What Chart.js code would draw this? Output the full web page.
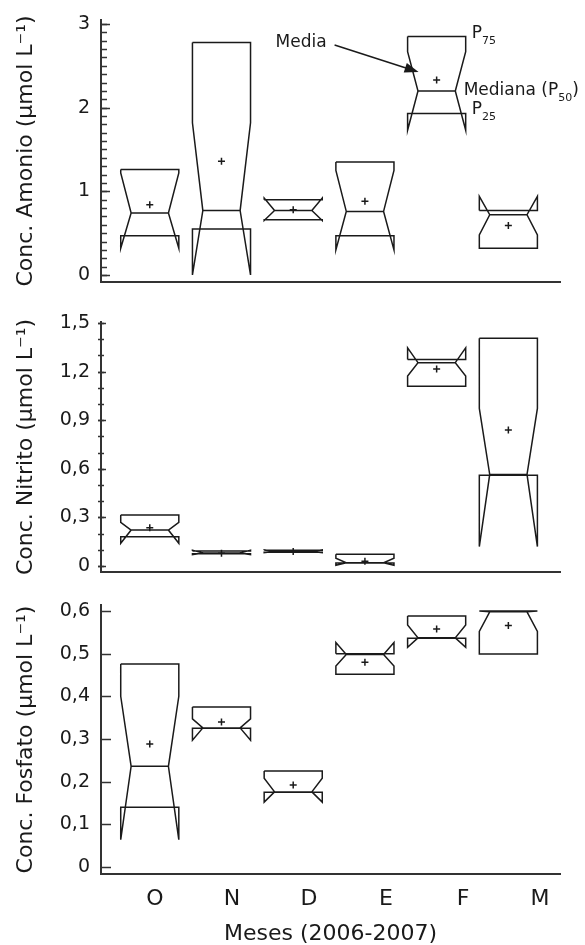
<!DOCTYPE html>
<html>
<head>
<meta charset="utf-8">
<script src="https://cdn.jsdelivr.net/npm/chart.js@4.4.0/dist/chart.umd.min.js"></script>
<style>
  html, body { margin: 0; padding: 0; background: #fff; }
  #wrap { position: relative; width: 585px; height: 945px; }
  #wrap canvas { position: absolute; left: 0; }
</style>
</head>
<body>
<div id="wrap">
  <canvas id="amonio" width="585" height="292" style="top:0px"></canvas>
  <canvas id="nitrito" width="585" height="290" style="top:292px"></canvas>
  <canvas id="fosfato" width="585" height="363" style="top:582px"></canvas>
</div>
<script>
// meses de muestreo
const months = ['O', 'N', 'D', 'E', 'F', 'M'];

// Amonio (µmol L-1)
const amoP25 = [0.47, 0.55, 0.66, 0.47, 1.93, 0.32];
const amoP75 = [1.26, 2.78, 0.90, 1.35, 2.85, 0.77];
const amoMed = [0.74, 0.77, 0.77, 0.76, 2.20, 0.72];
const amoNotchLo = [0.32, 0.00, 0.65, 0.30, 1.73, 0.48];
const amoNotchHi = [1.22, 1.82, 0.92, 1.25, 2.67, 0.94];
const amoMean = [0.84, 1.36, 0.78, 0.88, 2.33, 0.59];
const amoTicks = [0, 1, 2, 3];

// Nitrito (µmol L-1)
const nitP25 = [0.18, 0.075, 0.085, 0.018, 1.11, 0.56];
const nitP75 = [0.315, 0.093, 0.097, 0.072, 1.275, 1.405];
const nitMed = [0.222, 0.08, 0.09, 0.02, 1.255, 0.565];
const nitNotchLo = [0.14, 0.07, 0.082, 0.005, 1.173, 0.12];
const nitNotchHi = [0.27, 0.098, 0.099, 0.048, 1.347, 0.973];
const nitMean = [0.236, 0.078, 0.09, 0.03, 1.216, 0.84];
const nitTicks = [0, 0.3, 0.6, 0.9, 1.2, 1.5];

// Fosfato (µmol L-1)
const fosP25 = [0.14, 0.325, 0.175, 0.452, 0.536, 0.499];
const fosP75 = [0.476, 0.375, 0.225, 0.50, 0.588, 0.60];
const fosMed = [0.236, 0.326, 0.176, 0.498, 0.537, 0.598];
const fosNotchLo = [0.064, 0.297, 0.152, 0.471, 0.515, 0.552];
const fosNotchHi = [0.40, 0.347, 0.208, 0.526, 0.567, 0.60];
const fosMean = [0.288, 0.34, 0.192, 0.48, 0.558, 0.566];
const fosTicks = [0, 0.1, 0.2, 0.3, 0.4, 0.5, 0.6];

const FONT = 'DejaVu Sans';
const INK = '#1a1a1a';
const AXIS = '#333';
const HALF_W = 0.405;   // media anchura de la caja (unidades de x)
const NOTCH = 0.145;    // entrada de la muesca

Chart.defaults.font.family = FONT;
Chart.defaults.color = INK;

// contorno de cada caja con muesca, null corta la linea entre cajas
function boxOutline(p25, p75, med, lo, hi) {
  const pts = [];
  months.forEach((m, i) => {
    const L = i - HALF_W, R = i + HALF_W;
    pts.push(
      {x: L, y: p75[i]}, {x: R, y: p75[i]}, {x: R, y: hi[i]},
      {x: R - NOTCH, y: med[i]}, {x: R, y: lo[i]}, {x: R, y: p25[i]},
      {x: L, y: p25[i]}, {x: L, y: lo[i]}, {x: L + NOTCH, y: med[i]},
      {x: L, y: hi[i]}, {x: L, y: p75[i]}, {x: i, y: null},
      {x: L + NOTCH, y: med[i]}, {x: R - NOTCH, y: med[i]}, {x: i, y: null}
    );
  });
  return pts;
}

// marcas de los ejes y hacia dentro (y menores)
const innerTicks = {
  id: 'innerTicks',
  afterDraw(chart, args, opts) {
    const {ctx, scales: {y}, chartArea} = chart;
    const x0 = chartArea.left;
    ctx.save();
    ctx.strokeStyle = AXIS;
    ctx.lineWidth = 1.5;
    const top = opts.values[opts.values.length - 1];
    const mark = (v, out, inn) => {
      const py = Math.round(y.getPixelForValue(v)) + 0.5;
      ctx.beginPath();
      ctx.moveTo(x0 - out, py);
      ctx.lineTo(x0 + inn, py);
      ctx.stroke();
    };
    if (opts.minorStep) {
      for (let k = 0; k * opts.minorStep <= top + 1e-9; k++) {
        mark(k * opts.minorStep, opts.minor[0], opts.minor[1]);
      }
    }
    opts.values.forEach(v => mark(v, opts.major[0], opts.major[1]));
    ctx.restore();
  }
};

// anotaciones explicativas sobre la caja de F (panel de amonio)
const keyNotes = {
  id: 'keyNotes',
  afterDatasetsDraw(chart, args, opts) {
    if (!opts.enabled) return;
    const {ctx, scales: {x, y}} = chart;
    const i = 4;
    const left = x.getPixelForValue(i - HALF_W);
    const right = x.getPixelForValue(i + HALF_W);
    ctx.save();
    ctx.fillStyle = INK;
    ctx.strokeStyle = INK;

    // flecha "Media"
    const tx = left + 11, ty = y.getPixelForValue(amoMean[i]) - 8;
    const sx = tx - 84, sy = ty - 27;
    const ang = Math.atan2(ty - sy, tx - sx);
    ctx.lineWidth = 1.5;
    ctx.beginPath();
    ctx.moveTo(sx, sy);
    ctx.lineTo(tx - 10 * Math.cos(ang), ty - 10 * Math.sin(ang));
    ctx.stroke();
    ctx.beginPath();
    ctx.moveTo(tx, ty);
    ctx.lineTo(tx - 14 * Math.cos(ang) + 5 * Math.sin(ang), ty - 14 * Math.sin(ang) - 5 * Math.cos(ang));
    ctx.lineTo(tx - 14 * Math.cos(ang) - 5 * Math.sin(ang), ty - 14 * Math.sin(ang) + 5 * Math.cos(ang));
    ctx.closePath();
    ctx.fill();

    ctx.textBaseline = 'alphabetic';
    ctx.font = '17px ' + FONT;
    ctx.textAlign = 'right';
    ctx.fillText('Media', sx - 8, sy + 2);

    ctx.textAlign = 'left';
    const withSub = (x0, base, pre, sub, post) => {
      ctx.font = '17px ' + FONT;
      ctx.fillText(pre, x0, base);
      let cx = x0 + ctx.measureText(pre).width;
      ctx.font = '11px ' + FONT;
      ctx.fillText(sub, cx, base + 6);
      cx += ctx.measureText(sub).width;
      if (post) {
        ctx.font = '17px ' + FONT;
        ctx.fillText(post, cx, base);
      }
    };
    withSub(right + 6, y.getPixelForValue(amoP75[i]) + 1.5, 'P', '75');
    withSub(right - 2, y.getPixelForValue(amoMed[i]) + 4.5, 'Mediana (P', '50', ')');
    withSub(right + 6, y.getPixelForValue(amoP25[i]), 'P', '25');
    ctx.restore();
  }
};

function yTickLabel(v) {
  return String(v).replace('.', ',');
}

function makePanel(id, cfg) {
  const scales = {
    x: {
      type: 'linear', min: -0.68, max: 5.72, weight: 0,
      grid: {display: false, drawTicks: false},
      ticks: {display: false},
      border: {display: true, color: AXIS, width: 2},
      afterFit: s => { s.height = 0; }
    },
    y: {
      min: cfg.yMin, max: cfg.yMax,
      afterBuildTicks: s => { s.ticks = cfg.ticks.map(v => ({value: v})); },
      grid: {display: false, drawTicks: false},
      border: {display: true, color: AXIS, width: 2},
      ticks: {font: {size: 19}, color: INK, padding: 11, callback: yTickLabel},
      title: {display: true, text: cfg.title, font: {size: 22}, color: INK, padding: {top: 13}},
      afterFit: s => { s.width = 101; s.paddingTop = 0; s.paddingBottom = 0; }
    }
  };
  if (cfg.monthAxis) {
    scales.xl = {
      type: 'linear', position: 'bottom', min: -0.70, max: 5.26, weight: 1,
      afterBuildTicks: s => { s.ticks = months.map((m, i) => ({value: i})); },
      grid: {display: false, drawTicks: false},
      border: {display: false},
      ticks: {font: {size: 22}, color: INK, padding: 12, callback: v => months[v]},
      title: {display: true, text: 'Meses (2006-2007)', font: {size: 22, lineHeight: 1}, color: INK, padding: 0},
      afterFit: s => { s.height = 71; s.paddingLeft = 0; s.paddingRight = 0; }
    };
  }
  return new Chart(document.getElementById(id), {
    type: 'scatter',
    data: {
      datasets: [
        {
          data: boxOutline(cfg.p25, cfg.p75, cfg.med, cfg.lo, cfg.hi),
          showLine: true, spanGaps: false, pointRadius: 0,
          borderColor: INK, borderWidth: 1.5, tension: 0
        },
        {
          data: cfg.mean.map((v, i) => ({x: i, y: v})),
          pointStyle: 'cross', pointRadius: 3.5, pointBorderWidth: 1.5,
          borderColor: INK, backgroundColor: INK
        }
      ]
    },
    options: {
      responsive: false,
      animation: false,
      events: [],
      layout: {padding: cfg.padding},
      scales: scales,
      plugins: {
        legend: {display: false},
        tooltip: {enabled: false},
        innerTicks: cfg.tickMarks,
        keyNotes: {enabled: !!cfg.notes}
      }
    },
    plugins: [innerTicks, keyNotes]
  });
}

makePanel('amonio', {
  p25: amoP25, p75: amoP75, med: amoMed, lo: amoNotchLo, hi: amoNotchHi, mean: amoMean,
  ticks: amoTicks, yMin: -0.084, yMax: 3.048,
  title: 'Conc. Amonio (µmol L⁻¹)',
  padding: {top: 20, bottom: 10, left: 0, right: 25},
  tickMarks: {values: amoTicks, major: [0, 9], minor: [0, 6], minorStep: 0.1},
  notes: true
});

makePanel('nitrito', {
  p25: nitP25, p75: nitP75, med: nitMed, lo: nitNotchLo, hi: nitNotchHi, mean: nitMean,
  ticks: nitTicks, yMin: -0.037, yMax: 1.506,
  title: 'Conc. Nitrito (µmol L⁻¹)',
  padding: {top: 30, bottom: 10, left: 0, right: 25},
  tickMarks: {values: nitTicks, major: [3, 5], minor: [3, 3], minorStep: 0.1}
});

makePanel('fosfato', {
  p25: fosP25, p75: fosP75, med: fosMed, lo: fosNotchLo, hi: fosNotchHi, mean: fosMean,
  ticks: fosTicks, yMin: -0.0164, yMax: 0.614,
  title: 'Conc. Fosfato (µmol L⁻¹)',
  padding: {top: 23, bottom: 0, left: 0, right: 25},
  tickMarks: {values: fosTicks, major: [0, 10], minor: [0, 0], minorStep: 0},
  monthAxis: true
});
</script>
</body>
</html>
